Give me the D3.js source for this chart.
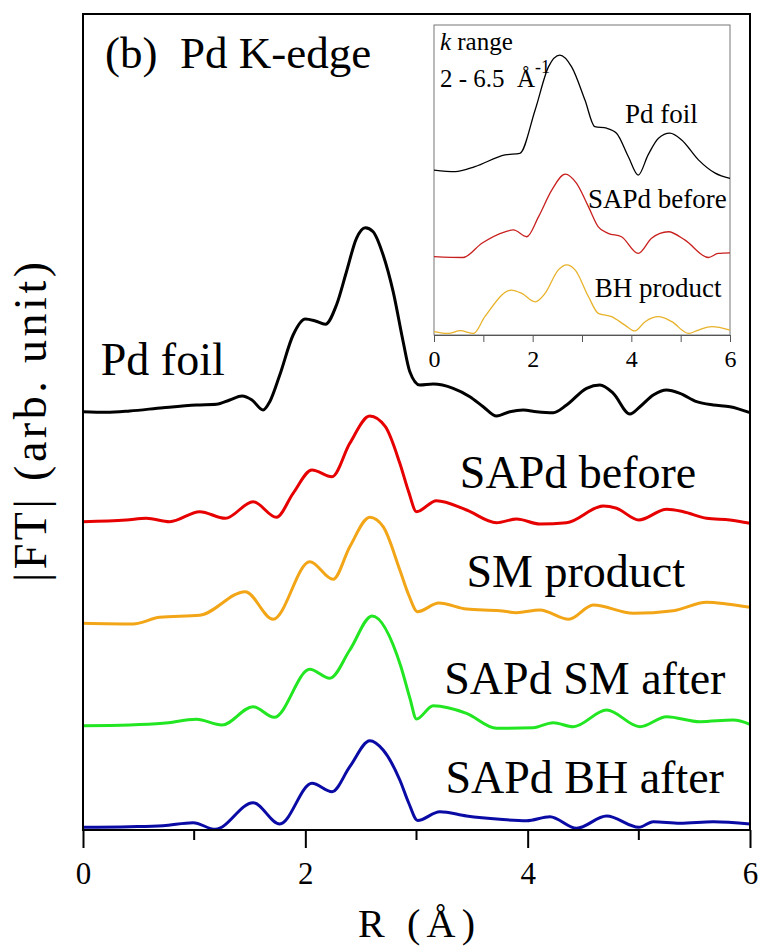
<!DOCTYPE html>
<html>
<head>
<meta charset="utf-8">
<script src="https://cdn.jsdelivr.net/npm/d3@7"></script>
<style>
  body { margin: 0; background: #fff; }
  svg text { font-family: "Liberation Serif", "Times New Roman", serif; fill: #000; }
</style>
</head>
<body>
<div id="chart"></div>
<script>
// main panel: |FT| vs R, curves are stacked (offset already in values)
var foilR   = [0, 0.21, 0.42, 0.72, 1.02, 1.2, 1.32, 1.43, 1.52, 1.62, 1.68, 1.77, 1.89, 2.0, 2.09, 2.18, 2.28, 2.37, 2.46, 2.54, 2.61, 2.7, 2.79, 2.88, 2.94, 3.03, 3.15, 3.33, 3.48, 3.6, 3.72, 3.84, 3.96, 4.08, 4.23, 4.35, 4.53, 4.65, 4.77, 4.92, 5.01, 5.13, 5.25, 5.37, 5.52, 5.67, 5.82, 6.0];
var foilFT  = [41.83, 41.77, 41.9, 42.23, 42.5, 42.57, 43.0, 43.4, 43.0, 42.0, 42.83, 45.5, 49.5, 51.1, 50.9, 50.57, 52.5, 55.83, 59.17, 60.23, 59.83, 57.5, 53.83, 48.83, 45.83, 44.5, 44.6, 44.17, 43.33, 42.33, 41.4, 41.83, 42.0, 41.83, 41.73, 42.5, 44.17, 44.5, 43.67, 41.6, 42.33, 43.5, 44.0, 43.67, 42.83, 42.5, 42.33, 41.73];

var beforeR  = [0, 0.39, 0.57, 0.78, 1.05, 1.28, 1.53, 1.74, 1.89, 2.06, 2.24, 2.4, 2.58, 2.72, 2.85, 2.93, 3.0, 3.18, 3.45, 3.72, 3.9, 4.11, 4.35, 4.68, 4.8, 5.0, 5.25, 5.4, 5.61, 5.82, 6.0];
var beforeFT = [30.83, 31.0, 31.17, 30.83, 31.83, 31.17, 32.83, 31.27, 33.67, 36.0, 35.33, 38.67, 41.4, 40.33, 36.67, 33.8, 31.83, 32.93, 32.0, 30.73, 31.1, 30.6, 30.73, 32.4, 32.17, 31.0, 32.07, 31.83, 31.17, 31.0, 30.67];

var smR  = [0, 0.45, 0.69, 1.05, 1.46, 1.71, 2.04, 2.25, 2.4, 2.58, 2.7, 2.85, 2.93, 3.01, 3.2, 3.45, 3.75, 3.9, 4.11, 4.37, 4.59, 4.95, 5.31, 5.61, 5.79, 6.0];
var smFT = [20.67, 20.6, 21.27, 21.47, 23.83, 21.07, 26.83, 25.07, 28.33, 31.27, 30.33, 26.0, 23.5, 21.83, 22.7, 22.1, 21.93, 21.73, 22.0, 21.07, 22.5, 21.67, 21.93, 22.77, 22.6, 22.27];

var smAfterR  = [0, 0.42, 0.72, 1.02, 1.25, 1.53, 1.72, 2.04, 2.22, 2.4, 2.6, 2.86, 2.94, 3.0, 3.15, 3.45, 3.72, 4.05, 4.23, 4.41, 4.71, 5.01, 5.25, 5.55, 5.85, 6.0];
var smAfterFT = [10.43, 10.5, 10.67, 11.07, 10.5, 12.33, 11.27, 16.07, 15.17, 18.0, 21.4, 16.33, 13.2, 11.1, 12.43, 11.67, 10.17, 10.23, 10.73, 10.33, 12.0, 10.33, 11.33, 10.83, 11.0, 10.57];

var bhAfterR  = [0, 0.42, 0.72, 0.99, 1.19, 1.53, 1.77, 2.06, 2.24, 2.4, 2.58, 2.7, 2.85, 2.93, 3.01, 3.21, 3.45, 3.75, 3.99, 4.2, 4.44, 4.71, 5.0, 5.13, 5.37, 5.67, 6.0];
var bhAfterFT = [0.27, 0.33, 0.43, 0.73, 0.07, 2.73, 0.6, 4.67, 3.83, 6.33, 8.93, 8.0, 5.0, 2.7, 0.95, 1.83, 1.4, 1.07, 0.93, 1.33, 0.17, 1.4, 0.27, 0.83, 0.67, 0.83, 0.6];

var mainNames  = ["Pd foil", "SAPd before", "SM product", "SAPd SM after", "SAPd BH after"];
var mainColors = ["#000000", "#e60000", "#f2a516", "#22e622", "#0a0aa5"];
// label anchor (R, FT) for each curve name
var mainLabelR  = [0.16, 3.39, 3.45, 3.25, 3.26];
var mainLabelFT = [45.5, 34.2, 24.3, 13.6, 3.67];

// inset: k range 2 - 6.5
var inFoilR  = [0, 0.43, 0.83, 1.44, 1.74, 2.05, 2.32, 2.55, 2.79, 3.06, 3.26, 3.5, 3.7, 3.94, 4.14, 4.34, 4.55, 4.78, 5.02, 5.36, 5.7, 6.0];
var inFoilFT = [5.32, 5.27, 5.43, 5.81, 5.86, 7.26, 8.65, 9.03, 8.65, 7.58, 6.72, 6.67, 6.51, 5.75, 5.16, 5.81, 6.35, 6.51, 6.29, 5.65, 5.22, 5.05];

var inBeforeR  = [0, 0.59, 0.97, 1.44, 1.61, 1.88, 2.12, 2.39, 2.66, 2.89, 3.13, 3.33, 3.53, 3.8, 4.14, 4.41, 4.75, 5.09, 5.56, 5.76, 6.0];
var inBeforeFT = [2.53, 2.5, 2.96, 3.33, 3.39, 3.17, 3.82, 4.68, 5.19, 4.89, 4.14, 3.49, 3.28, 3.17, 2.63, 3.12, 3.33, 3.06, 2.5, 2.63, 2.65];

var inBhR  = [0, 0.29, 0.53, 0.8, 1.03, 1.57, 1.78, 2.05, 2.25, 2.52, 2.69, 2.86, 3.13, 3.33, 3.6, 3.87, 4.07, 4.28, 4.55, 4.82, 5.16, 5.36, 5.63, 6.0];
var inBhFT = [0.11, 0.05, 0.14, 0.05, 0.59, 1.45, 1.34, 1.07, 1.34, 2.1, 2.26, 2.1, 1.24, 0.7, 0.59, 0.32, 0.13, 0.43, 0.59, 0.43, 0.05, 0.16, 0.27, 0.16];

var insetNames  = ["Pd foil", "SAPd before", "BH product"];
var insetColors = ["#000000", "#c8201e", "#e8b22a"];
var insetLabelR  = [3.87, 3.12, 3.26];
var insetLabelFT = [6.84, 4.1, 1.23];

var xTicks = [0, 2, 4, 6];
var xMinor = [1, 3, 5];

var W = 762, H = 950;
var margin = { left: 83, right: 12, top: 14, bottom: 120 };

var svg = d3.select("#chart").append("svg")
	.attr("width", W)
	.attr("height", H);

var x = d3.scaleLinear().domain([0, 6]).range([margin.left, W - margin.right]);
var y = d3.scaleLinear().domain([0, 81.6]).range([H - margin.bottom, margin.top]);

function zip(a, b) {
	return a.map(function(d, i) { return [d, b[i]]; });
}

var mainSeries = [zip(foilR, foilFT), zip(beforeR, beforeFT), zip(smR, smFT), zip(smAfterR, smAfterFT), zip(bhAfterR, bhAfterFT)];

var line = d3.line()
	.x(function(d) { return x(d[0]); })
	.y(function(d) { return y(d[1]); })
	.curve(d3.curveMonotoneX);

svg.selectAll(".curve")
	.data(mainSeries)
	.enter()
	.append("path")
		.attr("class", "curve")
		.attr("d", line)
		.attr("fill", "none")
		.attr("stroke", function(d, i) { return mainColors[i]; })
		.attr("stroke-width", 3)
		.attr("stroke-linejoin", "round");

svg.selectAll(".lbl")
	.data(mainNames)
	.enter()
	.append("text")
		.attr("class", "lbl")
		.attr("x", function(d, i) { return x(mainLabelR[i]); })
		.attr("y", function(d, i) { return y(mainLabelFT[i]); })
		.attr("font-size", 46)
		.text(function(d) { return d; });

// frame
svg.append("rect")
	.attr("x", x(0))
	.attr("y", y(81.6))
	.attr("width", x(6) - x(0))
	.attr("height", y(0) - y(81.6))
	.attr("fill", "none")
	.attr("stroke", "#000")
	.attr("stroke-width", 2);

var xAxis = svg.append("g")
	.attr("transform", "translate(0," + y(0) + ")")
	.call(d3.axisBottom(x).tickValues(xTicks).tickSize(18).tickPadding(14).tickFormat(d3.format("d")));
xAxis.select(".domain").remove();
xAxis.selectAll("line").attr("stroke-width", 2);
xAxis.selectAll("text")
	.attr("font-size", 31)
	.attr("font-family", "Liberation Serif, serif");

svg.append("g")
	.attr("transform", "translate(0," + y(0) + ")")
	.selectAll("line")
	.data(xMinor)
	.enter()
	.append("line")
		.attr("x1", function(d) { return x(d); })
		.attr("x2", function(d) { return x(d); })
		.attr("y1", 0)
		.attr("y2", 10)
		.attr("stroke", "#000")
		.attr("stroke-width", 2);

svg.append("text")
	.attr("x", 358)
	.attr("y", 937)
	.attr("font-size", 40)
	.attr("textLength", 117)
	.attr("lengthAdjust", "spacing")
	.text("R (Å)");

svg.append("text")
	.attr("transform", "translate(46," + ((y(0) + y(81.6)) / 2) + ") rotate(-90)")
	.attr("x", -160)
	.attr("font-size", 46)
	.attr("textLength", 320)
	.attr("lengthAdjust", "spacing")
	.text("|FT| (arb. unit)");

svg.append("text")
	.attr("x", 105)
	.attr("y", 68)
	.attr("font-size", 45)
	.attr("xml:space", "preserve")
	.text("(b)  Pd K-edge");

// ---- inset ----
var ix = d3.scaleLinear().domain([0, 6]).range([434, 730]);
var iy = d3.scaleLinear().domain([0, 10]).range([335, 25]);

var insetSeries = [zip(inFoilR, inFoilFT), zip(inBeforeR, inBeforeFT), zip(inBhR, inBhFT)];

var iline = d3.line()
	.x(function(d) { return ix(d[0]); })
	.y(function(d) { return iy(d[1]); })
	.curve(d3.curveMonotoneX);

var inset = svg.append("g");

inset.append("rect")
	.attr("x", ix(0))
	.attr("y", iy(10))
	.attr("width", ix(6) - ix(0))
	.attr("height", iy(0) - iy(10))
	.attr("fill", "#fff")
	.attr("stroke", "#777")
	.attr("stroke-width", 1);

inset.selectAll(".icurve")
	.data(insetSeries)
	.enter()
	.append("path")
		.attr("class", "icurve")
		.attr("d", iline)
		.attr("fill", "none")
		.attr("stroke", function(d, i) { return insetColors[i]; })
		.attr("stroke-width", 1.3);

inset.selectAll(".ilbl")
	.data(insetNames)
	.enter()
	.append("text")
		.attr("class", "ilbl")
		.attr("x", function(d, i) { return ix(insetLabelR[i]); })
		.attr("y", function(d, i) { return iy(insetLabelFT[i]); })
		.attr("font-size", 27)
		.text(function(d) { return d; });

var kt = inset.append("text")
	.attr("x", ix(0.12))
	.attr("y", iy(9.19))
	.attr("font-size", 25);
kt.append("tspan").attr("font-style", "italic").text("k");
kt.append("tspan").text(" range");

var kr = inset.append("text")
	.attr("x", ix(0.12))
	.attr("y", iy(8.0))
	.attr("font-size", 25)
	.attr("xml:space", "preserve");
kr.append("tspan").text("2 - 6.5  Å");
kr.append("tspan").attr("dy", -14).attr("font-size", 18).text("-1");

var ixAxis = inset.append("g")
	.attr("transform", "translate(0," + iy(0) + ")")
	.call(d3.axisBottom(ix).tickValues([0, 1, 2, 3, 4, 5, 6]).tickSize(7).tickPadding(8)
		.tickFormat(function(d) { return d % 2 === 0 ? d : ""; }));
ixAxis.select(".domain").attr("stroke", "#555");
ixAxis.selectAll("line").attr("stroke", "#555");
ixAxis.selectAll("text")
	.attr("font-size", 24)
	.attr("font-family", "Liberation Serif, serif");
</script>
</body>
</html>
